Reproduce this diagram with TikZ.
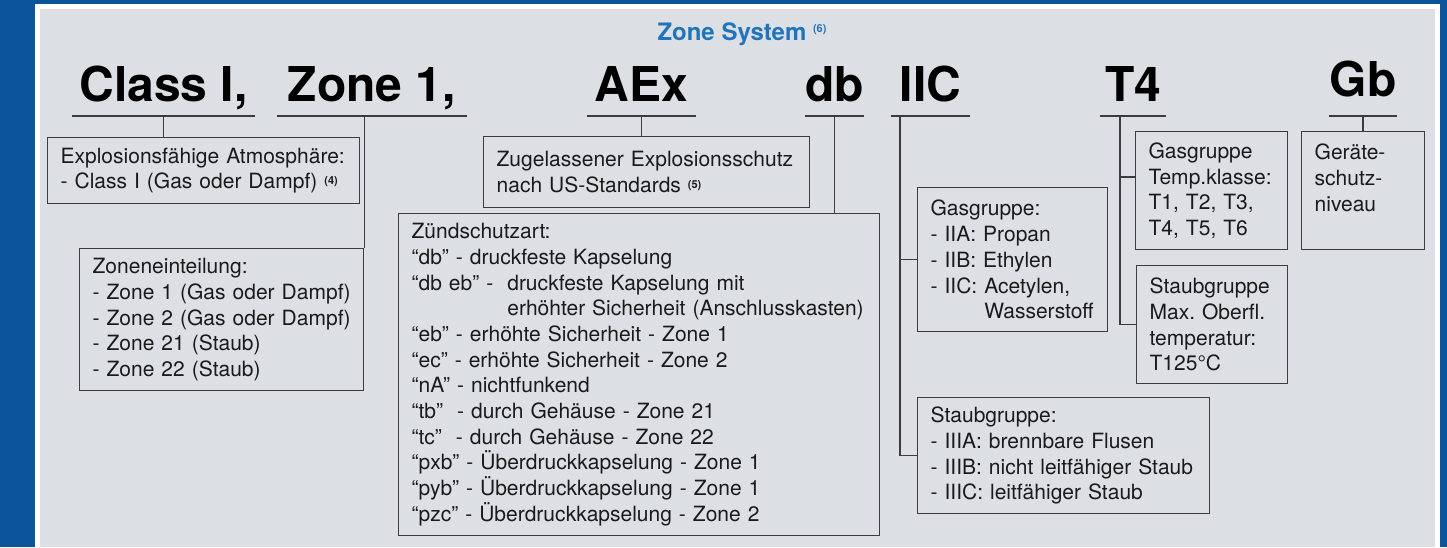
\documentclass[tikz,border=0pt]{standalone}
\usepackage{fontspec}
\setmainfont{TeX Gyre Heros}
\frenchspacing
\definecolor{frameblue}{HTML}{0A5499}
\definecolor{panelgrey}{HTML}{DCDFE3}
\definecolor{titleblue}{HTML}{1F74BD}
\definecolor{inkgrey}{HTML}{1A1A1A}
\definecolor{rulegrey}{HTML}{3C3C3C}
\newcommand{\boxfont}{\fontsize{10.5}{12.85}\selectfont}
\newcommand{\headfont}{\fontsize{24}{26}\selectfont\bfseries}
\newcommand{\fnmark}[2][2.2pt]{\raisebox{#1}{\fontsize{5.5}{6}\selectfont\bfseries(#2)}}

\tikzset{
  infobox/.style={draw=rulegrey, line width=0.65pt, anchor=north west, align=left,
    inner xsep=6.5pt, inner ysep=0pt, font=\boxfont, text=inkgrey,
    execute at begin node={\rightskip=0pt plus 1fil minus 20pt\hbadness=10000}},
  heading/.style={font=\headfont, text=black, inner sep=0pt, text depth=7pt, anchor=south},
  link/.style={draw=rulegrey, line width=0.65pt},
}

\begin{document}
\begin{tikzpicture}[x=0.5pt, y=-0.5pt]
\useasboundingbox (0,0) rectangle (1447,547);
\fill[frameblue] (0,0) rectangle (1447,547);
\fill[white] (35,4) rectangle (1440,547);
\fill[panelgrey] (40,9) rectangle (1435,547);

% title
\node[font=\fontsize{12}{14}\selectfont\bfseries, text=titleblue, anchor=base, inner sep=0pt] (title) at (742,40) {Zone System \fnmark[4pt]{6}};

% marking
\node[heading, minimum width=91.5pt] (hClass) at (163.5,116) {Class I,};
\node[heading, minimum width=95pt] (hZone) at (372,116) {Zone 1,};
\node[heading, minimum width=54.5pt] (hAEx) at (641.5,116) {AEx};
\node[heading, minimum width=26.5pt] (hdb) at (834.5,116) {db};
\node[heading, minimum width=39.5pt] (hIIC) at (930.5,116) {IIC};
\node[heading, minimum width=33pt] (hT4) at (1133,116) {T4};
\node[heading, minimum width=30pt, text depth=9.5pt] (hGb) at (1363,116) {Gb};
\foreach \h in {hClass,hZone,hAEx,hdb,hIIC,hT4,hGb}
  \draw[link] (\h.south west) -- (\h.south east);

% boxes
\node[infobox, text width=143pt, minimum height=33pt] (expl) at (47,137)
  {Explosionsfähige Atmosphäre:\\- Class I (Gas oder Dampf) \fnmark{4}};
\node[infobox, text width=129pt, minimum height=71pt] (zones) at (79,248)
  {Zoneneinteilung:\\- Zone 1 (Gas oder Dampf)\\- Zone 2 (Gas oder Dampf)\\- Zone 21 (Staub)\\- Zone 22 (Staub)};
\node[infobox, text width=150pt, minimum height=35.5pt] (aex) at (483,136)
  {Zugelassener Explosionsschutz\\nach US-Standards \fnmark{5}};
\node[infobox, text width=227.5pt, minimum height=161pt] (zuend) at (398,213)
  {Zündschutzart:\\
   “db” - druckfeste Kapselung\\
   “db eb” -\ \ druckfeste Kapselung mit\\
   \hphantom{“db eb” -\ \ }erhöhter Sicherheit (Anschlusskasten)\\
   “eb” - erhöhte Sicherheit - Zone 1\\
   “ec” - erhöhte Sicherheit - Zone 2\\
   “nA” - nichtfunkend\\
   “tb”\ \ - durch Gehäuse - Zone 21\\
   “tc”\ \ - durch Gehäuse - Zone 22\\
   “pxb” - Überdruckkapselung - Zone 1\\
   “pyb” - Überdruckkapselung - Zone 1\\
   “pzc” - Überdruckkapselung - Zone 2};
\node[infobox, text width=82pt, minimum height=72pt] (gasgrp) at (917,187)
  {Gasgruppe:\\- IIA: Propan\\- IIB: Ethylen\\- IIC: Acetylen,\\\hphantom{- IIC: }Wasserstoff};
\node[infobox, text width=133pt, minimum height=58pt] (staubgrp) at (917,397)
  {Staubgruppe:\\- IIIA: brennbare Flusen\\- IIIB: nicht leitfähiger Staub\\- IIIC: leitfähiger Staub};
\node[infobox, text width=63pt, minimum height=59pt] (tempkl) at (1135,131)
  {Gasgruppe\\Temp.klasse:\\T1, T2, T3,\\T4, T5, T6};
\node[infobox, text width=62.5pt, minimum height=59pt] (oberfl) at (1136,265)
  {Staubgruppe\\Max. Oberfl.\\temperatur:\\T125°C};
\node[infobox, text width=48.5pt, minimum height=59pt] (geraet) at (1301,131)
  {Geräte-\\schutz-\\niveau\\\mbox{}};

% connectors
\draw[link] (hClass.south) -- (hClass.south |- expl.north);
\draw[link] (zones.north east) -- (zones.north east |- hZone.south);
\draw[link] (hAEx.south) -- (hAEx.south |- aex.north);
\draw[link] (hdb.south) -- (hdb.south |- zuend.north);
\coordinate (iicbus) at (900,116);
\draw[link] (iicbus) |- (gasgrp.west);
\draw[link] (iicbus) |- (staubgrp.west);
\coordinate (tfourbus) at (1120,116);
\coordinate (tfourtap) at (1120,177);
\draw[link] (tfourbus) |- (oberfl.west);
\draw[link] (tfourtap) -- (tempkl.west |- tfourtap);
\draw[link] (hGb.south) -- (hGb.south |- geraet.north);
\end{tikzpicture}
\end{document}
